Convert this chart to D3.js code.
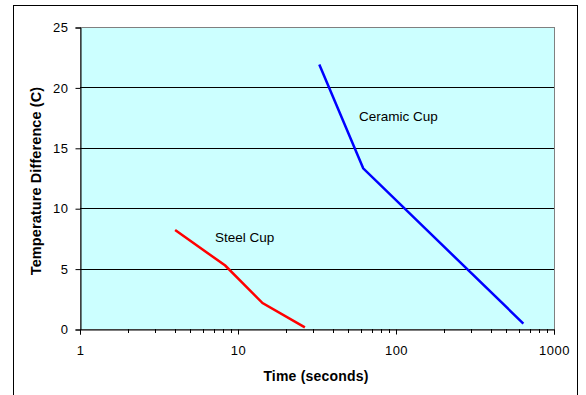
<!DOCTYPE html>
<html>
<head>
<meta charset="utf-8">
<script src="https://cdn.jsdelivr.net/npm/d3@7"></script>
<style>
body { margin: 0; background: #fff; }
text { font-family: "Liberation Sans", Arial, sans-serif; }
</style>
</head>
<body>
<svg width="586" height="395"></svg>
<script>
// data
var steelTime = [4, 8.3, 14.3, 26.5];
var steelTemp = [8.2, 5.25, 2.15, 0.13];
var ceramicTime = [32.7, 62, 640];
var ceramicTemp = [21.9, 13.3, 0.45];
var yTicks = [0, 5, 10, 15, 20, 25];
var xTicks = [1, 10, 100, 1000];

var svg = d3.select("svg");
// note: "top" is a reserved window property, so use plot* names
var plotLeft = 80, plotRight = 554, plotTop = 27, plotBottom = 329;

// outer frame
svg.append("rect")
	.attr("x", 13.5).attr("y", 5.5)
	.attr("width", 564).attr("height", 400)
	.attr("fill", "#fff").attr("stroke", "#000").attr("stroke-width", 1);

var x = d3.scaleLog().domain([1, 1000]).range([plotLeft, plotRight]);
var y = d3.scaleLinear().domain([0, 25]).range([plotBottom, plotTop]);

// plot background
svg.append("rect")
	.attr("x", plotLeft + 0.5).attr("y", plotTop + 0.5)
	.attr("width", plotRight - plotLeft).attr("height", plotBottom - plotTop)
	.attr("fill", "#CCFFFF")
	.attr("stroke", "#808080").attr("stroke-width", 1);

// gridlines
svg.selectAll(".grid")
	.data(yTicks.filter(function(d) { return d > 0 && d < 25; }))
	.enter().append("line")
	.attr("x1", plotLeft).attr("x2", plotRight)
	.attr("y1", function(d) { return Math.round(y(d)) + 0.5; })
	.attr("y2", function(d) { return Math.round(y(d)) + 0.5; })
	.attr("stroke", "#000").attr("stroke-width", 1);

// y axis
var yAxis = svg.append("g")
	.attr("transform", "translate(" + (plotLeft + 0.5) + ",0.5)")
	.call(d3.axisLeft(y).tickValues(yTicks).tickSize(5).tickPadding(7));
yAxis.select(".domain").attr("stroke", "#000");
yAxis.selectAll("text").attr("font-size", 13).attr("fill", "#000")
	.attr("letter-spacing", 0.5)
	.attr("font-family", "Liberation Sans, Arial, sans-serif");

// x axis with minor log ticks
var minor = [];
for (var p = 1; p < 1000; p *= 10)
	for (var k = 2; k < 10; k++)
		minor.push(p * k);

var xAxis = svg.append("g")
	.attr("transform", "translate(0," + (plotBottom + 0.5) + ")")
	.call(d3.axisBottom(x).tickValues(xTicks).tickFormat(d3.format("d"))
		.tickSize(5).tickPadding(11));
xAxis.select(".domain").attr("stroke", "#000");
xAxis.selectAll("text").attr("font-size", 13).attr("fill", "#000")
	.attr("letter-spacing", 0.5)
	.attr("font-family", "Liberation Sans, Arial, sans-serif");

svg.selectAll(".minor")
	.data(minor)
	.enter().append("line")
	.attr("x1", function(d) { return Math.round(x(d)) + 0.5; })
	.attr("x2", function(d) { return Math.round(x(d)) + 0.5; })
	.attr("y1", plotBottom).attr("y2", plotBottom + 4)
	.attr("stroke", "#000");

// lines
var line = d3.line()
	.x(function(d) { return x(d[0]); })
	.y(function(d) { return y(d[1]); });

svg.append("path")
	.datum(d3.zip(steelTime, steelTemp))
	.attr("d", line)
	.attr("fill", "none").attr("stroke", "#FF0000").attr("stroke-width", 2.5);

svg.append("path")
	.datum(d3.zip(ceramicTime, ceramicTemp))
	.attr("d", line)
	.attr("fill", "none").attr("stroke", "#0000FF").attr("stroke-width", 2.5);

// labels
svg.append("text").attr("x", 215).attr("y", 242)
	.attr("font-size", 13.5).text("Steel Cup");
svg.append("text").attr("x", 359).attr("y", 121)
	.attr("font-size", 13.5).text("Ceramic Cup");

svg.append("text")
	.attr("x", 316).attr("y", 381)
	.attr("text-anchor", "middle")
	.attr("font-size", 14).attr("font-weight", "bold")
	.attr("letter-spacing", 0.2)
	.text("Time (seconds)");

svg.append("text")
	.attr("transform", "translate(41,181) rotate(-90)")
	.attr("text-anchor", "middle")
	.attr("font-size", 14.5).attr("font-weight", "bold")
	.attr("letter-spacing", 0.1)
	.text("Temperature Difference (C)");
</script>
</body>
</html>
